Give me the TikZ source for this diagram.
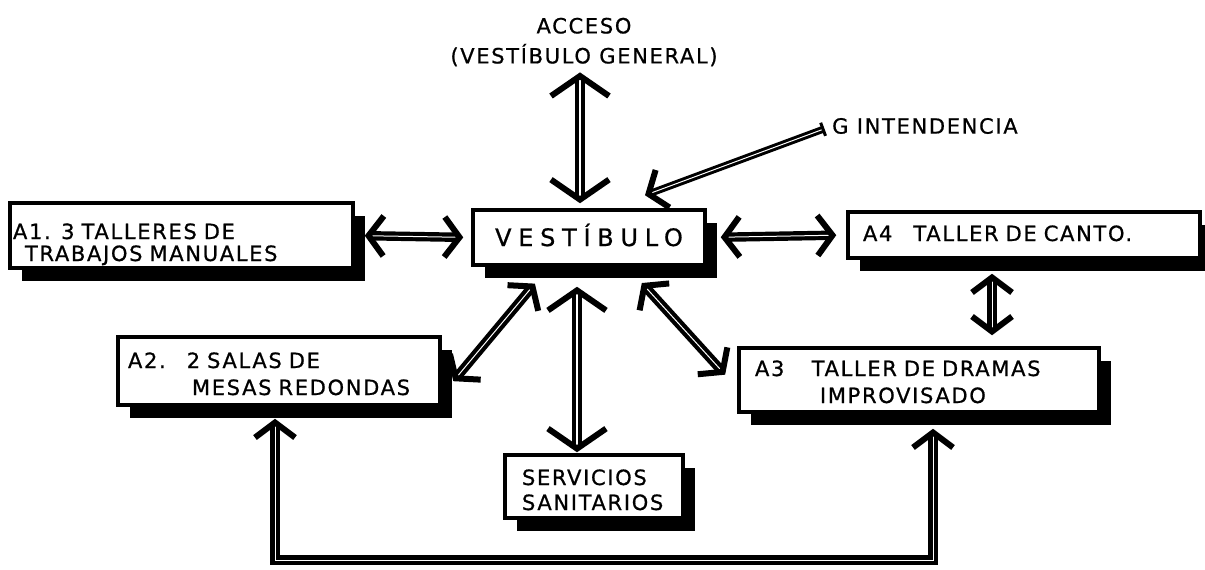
\documentclass[tikz,border=0pt]{standalone}
\usepackage{fontspec}
\setmainfont{DejaVu Sans}
\newfontfamily\handfont[LetterSpace=8,FakeBold=0.8]{DejaVu Sans}
\newfontfamily\bigfont[LetterSpace=28,FakeBold=0.8]{DejaVu Sans}
\usetikzlibrary{arrows.meta,shadows}
\tikzset{
  roomtip/.tip={Straight Barb[length=15pt,width=40pt,line width=6pt]},
  widetip/.tip={Straight Barb[length=20pt,width=58pt,line width=6pt]},
  roombox/.style={draw, line width=3.5pt, fill=white,
    drop shadow={shadow xshift=12pt, shadow yshift=-13pt, fill=black, opacity=1},
    inner xsep=0pt, inner ysep=0pt, align=left,
    font=\handfont\fontsize{21}{25}\selectfont},
  roomlabel/.style={inner sep=0pt, align=center,
    font=\handfont\fontsize{21}{30}\selectfont},
  linkarr/.style={roomtip-roomtip, double=white, double distance=1pt, line width=4.2pt},
  widearr/.style={widetip-widetip, double=white, double distance=1.2pt, line width=4.8pt},
  feedarr/.style={{Bar[width=14pt,line width=3pt]}-roomtip,
    double=white, double distance=1pt, line width=3pt},
}

\begin{document}
\begin{tikzpicture}[x=1pt, y=-1pt]
  \useasboundingbox (0,0) rectangle (1205,570);
  % ---- centre ----
  \node[roombox, text width=232pt, text height=36pt, text depth=19pt, align=center,
    font=\bigfont\fontsize{24}{28}\selectfont] at (589,237.5) (vest) {VESTÍBULO};
  % ---- top ----
  \node[roomlabel] at (584,42) (acc) {ACCESO\\(VESTÍBULO GENERAL)};
  \node[roomlabel, anchor=west] at (832,126) (int) {G INTENDENCIA};

  % ---- rooms ----
  \node[roombox, text width=343pt, text height=36pt, text depth=29pt] at (181.5,235.5) (a1)
    {\hspace*{3pt}A1. 3 TALLERES DE\\[-3pt]\hspace*{15pt}TRABAJOS MANUALES};
  \node[roombox, text width=352pt, text height=29pt, text depth=17pt] at (1024,235) (a4)
    {\hspace*{15pt}A4\quad TALLER DE CANTO.};
  \node[roombox, text width=322pt, text height=31pt, text depth=37pt] at (279,371) (a2)
    {\hspace*{10pt}A2.\quad 2 SALAS DE\\[2pt]\hspace*{74pt}MESAS REDONDAS};
  \node[roombox, text width=360pt, text height=28pt, text depth=36pt] at (919,380) (a3)
    {\hspace*{16pt}A3\hspace{1.3em}TALLER DE DRAMAS\\[2pt]\hspace*{81pt}IMPROVISADO};
  \node[roombox, text width=178pt, text height=30pt, text depth=33pt] at (594,486.5) (serv)
    {\hspace*{17pt}SERVICIOS\\\hspace*{17pt}SANITARIOS};

  % ---- Edges ----
  \draw[widearr, shorten <=6pt, shorten >=5pt] ([xshift=-9pt]vest.north |- acc.south) -- ([xshift=-9pt]vest.north);
  \draw[feedarr, shorten <=8pt] (int.west) -- ([xshift=56pt,yshift=13pt]vest.north);
  \draw[linkarr, shorten <=10pt, shorten >=8pt] (a1.east) -- (vest.west);
  \draw[linkarr, shorten <=14pt, shorten >=10pt] (vest.east) -- (a4.west);
  \draw[linkarr, shorten <=14pt, shorten >=11pt] ([xshift=-32pt]a4.south) -- ([xshift=-32pt]a4.south |- a3.north);
  % lower branches
  \draw[linkarr, shorten <=22pt, shorten >=18pt] ([xshift=-40pt]vest.south) -- ([yshift=-24pt]a2.east);
  \draw[widearr, shorten <=20pt, shorten >=1pt] ([xshift=-12pt]vest.south) -- ([xshift=-12pt]vest.south |- serv.north);
  \draw[linkarr, shorten <=22pt, shorten >=18pt] ([xshift=38pt]vest.south) -- ([yshift=-8pt]a3.west);
  % A2 -- A3 loop
  \coordinate (loop) at (600,560);
  \draw[linkarr, shorten <=12pt, shorten >=15pt] ([xshift=-4pt]a2.south)
    -- ([xshift=-4pt]a2.south |- loop) -- ([xshift=14pt]a3.south |- loop)
    -- ([xshift=14pt]a3.south);
\end{tikzpicture}
\end{document}
